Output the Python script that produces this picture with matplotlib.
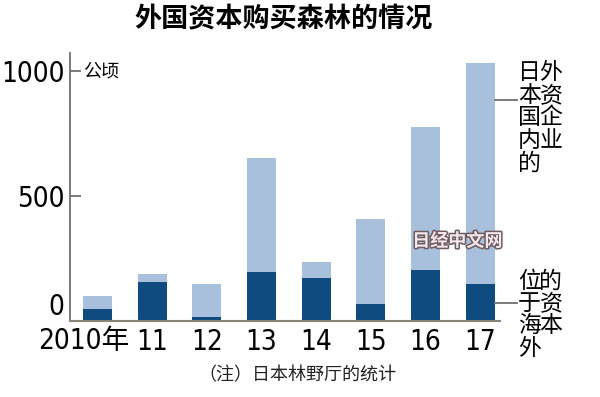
import numpy as np
import matplotlib.pyplot as plt
import matplotlib.patheffects as pe

plt.rcParams['font.family'] = ['Noto Sans CJK SC', 'DejaVu Sans']

# podaci (hektari), procijenjeni sa slike
years = ['2010年', '11', '12', '13', '14', '15', '16', '17']
overseas = [47, 157, 17, 195, 173, 67, 204, 148]      # 位于海外的资本
domestic = [54, 30, 130, 456, 64, 341, 573, 883]      # 日本国内的外资企业
yticks = [0, 500, 1000]

light = '#a9c0dd'
dark = '#0f4b7e'
gray = '#707070'
num_font = ['DejaVu Sans', 'Noto Sans CJK SC']
num_kw = dict(family=num_font, fontstretch='condensed', fontsize=20)

fig = plt.figure(figsize=(6, 3.97), dpi=100)
ax = fig.add_axes([0.1167, 0.1914, 0.7166, 0.6751])

x = np.arange(len(years))
w = 0.53
ax.bar(x, overseas, w, color=dark, zorder=2)
ax.bar(x, domestic, w, bottom=overseas, color=light, zorder=2)

ax.set_xlim(-0.5, 7.36)
ax.set_ylim(0, 1072)

for s in ['top', 'right']:
    ax.spines[s].set_visible(False)
ax.spines['left'].set_color(gray)
ax.spines['left'].set_linewidth(1.3)
ax.spines['bottom'].set_color('#8a8478')
ax.spines['bottom'].set_linewidth(1.5)

ax.set_yticks(yticks)
ax.set_yticklabels([str(v) for v in yticks], **num_kw)
ax.tick_params(axis='y', direction='in', length=8, width=1.3, color=gray, pad=4)
ax.yaxis.get_major_ticks()[0].tick1line.set_visible(False)
ax.get_yticklabels()[0].set_va('bottom')  # 0 stoji iznad osi

ax.set_xticks(x)
ax.set_xticklabels([''] + years[1:], **num_kw)
ax.tick_params(axis='x', length=0, pad=5)
ax.text(-0.24, -24, years[0], ha='center', va='top', **num_kw)

ax.text(-0.27, 1000, '公顷', fontsize=13, va='center', ha='left')

# legende s crtama
xr = x[-1] + w / 2
ax.plot([xr, xr + 0.4], [885, 885], color=gray, lw=1.3, clip_on=False)
ax.plot([xr, xr + 0.4], [overseas[-1] / 2, overseas[-1] / 2], color=gray, lw=1.3, clip_on=False)

def vtext(xx, yy, s):
    ax.text(xx, yy, '\n'.join(s), fontsize=16.5, ha='center', va='top',
            linespacing=0.97, clip_on=False)

vtext(7.9, 1038, '日本国内的')
vtext(8.29, 1038, '外资企业')
vtext(7.9, 206, '位于海外')
vtext(8.29, 206, '的资本')

fig.text(0.473, 0.95, '外国资本购买森林的情况', fontsize=19.5, fontweight='bold',
         ha='center', va='center')
fig.text(0.495, 0.055, '（注）日本林野厅的统计', fontsize=13, ha='center', va='center',
         color='#222222')

# vodeni zig
fig.text(0.762, 0.393, '日经中文网', fontsize=13, fontweight='bold', color='#f4e8ec',
         ha='center', va='center',
         path_effects=[pe.withStroke(linewidth=2.2, foreground='#6e5c60')])

fig.savefig('out.png', dpi=100)
